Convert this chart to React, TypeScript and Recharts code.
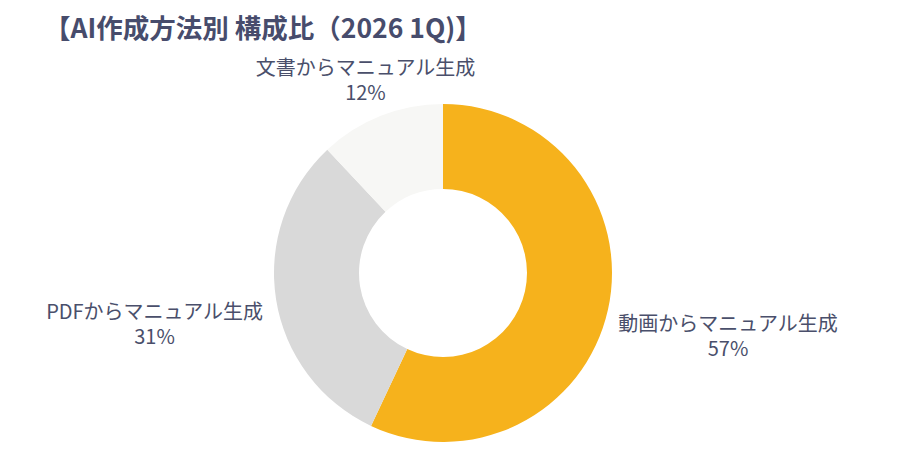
import React from 'react';
import { PieChart, Pie, Cell } from 'recharts';

const categories = ['動画からマニュアル生成', 'PDFからマニュアル生成', '文書からマニュアル生成'];
const shares = [57, 31, 12];
const sliceColors = ['#F6B21C', '#D9D9D9', '#F7F7F5'];
const title = '【AI作成方法別 構成比（2026 1Q)】';

const data = categories.map((name, i) => ({ name, value: shares[i] }));

const FONT = '"Noto Sans CJK JP", "Noto Sans", sans-serif';
const LABEL_SIZE = 20;
const TEXT_COLOR = '#4a4f6b';

// rough width: full-width glyphs 1em, latin ~0.6em
const textWidth = (s: string) =>
  [...s].reduce((w, ch) => w + (ch.charCodeAt(0) > 0xff ? 1 : 0.6) * LABEL_SIZE, 0);

const renderLabel = (props: any) => {
  const { cx, cy, midAngle, outerRadius, name, value } = props;
  const rad = (midAngle * Math.PI) / 180;
  const vx = Math.cos(rad);
  const vy = -Math.sin(rad);
  const r = outerRadius + 17;
  const w = Math.max(textWidth(name), textWidth(`${value}%`));
  // push the two-line block outward so its inner edge sits near the ring
  const bx = cx + vx * r + Math.sign(vx) * (w / 2) * Math.abs(vx) ** 2.5;
  const by = cy + vy * r + Math.sign(vy) * 21;
  return (
    <text x={bx} y={by} textAnchor="middle" fill={TEXT_COLOR} fontSize={LABEL_SIZE} fontFamily={FONT}>
      <tspan x={bx} y={by - 4}>{name}</tspan>
      <tspan x={bx} y={by + 21}>{`${value}%`}</tspan>
    </text>
  );
};

export default function App() {
  return (
    <div style={{ position: 'relative', width: 913, height: 468, background: '#fff', fontFamily: FONT }}>
      <style>{`body { margin: 0; }`}</style>
      <div
        style={{
          position: 'absolute',
          left: 44,
          top: 14,
          fontSize: 26.5,
          lineHeight: '26px',
          fontWeight: 700,
          color: '#474c6c',
          whiteSpace: 'nowrap',
        }}
      >
        {title}
      </div>
      <PieChart width={913} height={468} margin={{ top: 0, right: 0, bottom: 0, left: 0 }}>
        <Pie
          data={data}
          dataKey="value"
          nameKey="name"
          cx={443}
          cy={273}
          innerRadius={84}
          outerRadius={169}
          startAngle={90}
          endAngle={-270}
          stroke="none"
          label={renderLabel}
          labelLine={false}
          isAnimationActive={false}
        >
          {data.map((entry, i) => (
            <Cell key={entry.name} fill={sliceColors[i]} />
          ))}
        </Pie>
      </PieChart>
    </div>
  );
}
